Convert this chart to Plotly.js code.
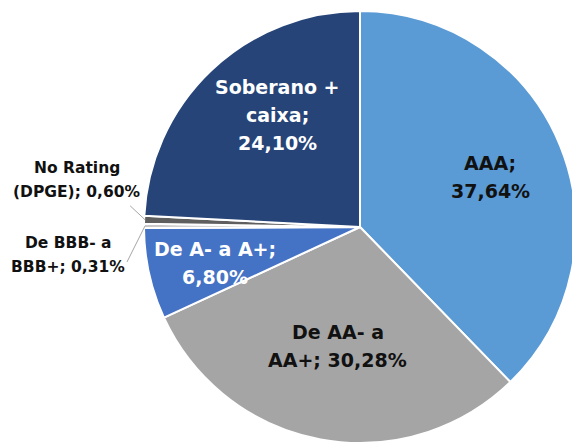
<!DOCTYPE html>
<html>
<head>
<meta charset="utf-8">
<script src="https://cdn.plot.ly/plotly-3.0.1.min.js"></script>
<style>
  html, body { margin: 0; padding: 0; background: #fff; overflow: hidden; }
  #chart { width: 600px; height: 460px; }
</style>
</head>
<body>
<div id="chart"></div>
<script>
// slices, clockwise from 12 o'clock
const labels = ['AAA', 'De AA- a AA+', 'De A- a A+', 'De BBB- a BBB+', 'No Rating (DPGE)', 'Soberano + caixa']
const values = [37.64, 30.28, 6.80, 0.31, 0.60, 24.10]
const labelLines = [
    ['AAA;', '37,64%'],
    ['De AA- a', 'AA+; 30,28%'],
    ['De A- a A+;', '6,80%'],
    ['De BBB- a', 'BBB+; 0,31%'],
    ['No Rating', '(DPGE); 0,60%'],
    ['Soberano +', 'caixa;', '24,10%'],
]
const sliceColors = ['#5B9BD5', '#A5A5A5', '#4472C4', '#C8C8C8', '#5F5F5F', '#264478']
const textColors = ['#111', '#111', '#fff', '#111', '#111', '#fff']

const W = 600, H = 460
const cx = 360, cy = 227, R = 216

// inside labels: [fraction of radius, angle nudge in degrees]; outside: null
const insidePos = [[0.645, 1], [0.56, 0], [0.69, -1.5], null, null, [0.645, 7]]
// outside labels: text centre offset and leader line end offset, from slice edge (px)
const outsidePos = {
    3: {text: [-77, 29], line: [-18, 36]},
    4: {text: [-68, -40], line: [-15, -14]},
}

const toX = px => px / W
const toY = py => 1 - py / H

const total = values.reduce((a, b) => a + b, 0)
const annotations = []
const shapes = []
let cum = 0
values.forEach((v, i) => {
    let mid = (cum + v / 2) / total * 360
    cum += v
    const lines = labelLines[i]
    let tx, ty, size, gap
    if (insidePos[i]) {
        const [f, nudge] = insidePos[i]
        const a = (mid + nudge) * Math.PI / 180
        tx = cx + Math.sin(a) * R * f
        ty = cy - Math.cos(a) * R * f
        size = 19
        gap = 28
    } else {
        const a = mid * Math.PI / 180
        const ex = cx + Math.sin(a) * (R - 1)
        const ey = cy - Math.cos(a) * (R - 1)
        const o = outsidePos[i]
        tx = ex + o.text[0]
        ty = ey + o.text[1]
        size = 15.5
        gap = 23.5
        shapes.push({
            type: 'line', xref: 'paper', yref: 'paper',
            x0: toX(ex), y0: toY(ey), x1: toX(ex + o.line[0]), y1: toY(ey + o.line[1]),
            line: {color: '#A6A6A6', width: 1},
        })
    }
    lines.forEach((t, k) => {
        annotations.push({
            xref: 'paper', yref: 'paper',
            x: toX(tx), y: toY(ty),
            yshift: -(k - (lines.length - 1) / 2) * gap,
            text: t, showarrow: false,
            xanchor: 'center', yanchor: 'middle',
            font: {family: 'DejaVu Sans', size: size, color: textColors[i], weight: 'bold'},
        })
    })
})

const data = [{
    type: 'pie',
    labels: labels,
    values: values,
    sort: false,
    direction: 'clockwise',
    rotation: 0,
    textinfo: 'none',
    hoverinfo: 'label+value',
    marker: {colors: sliceColors, line: {color: '#ffffff', width: 2}},
    domain: {x: [(cx - R) / W, (cx + R) / W], y: [1 - (cy + R) / H, 1 - (cy - R) / H]},
}]

const layout = {
    width: W,
    height: H,
    showlegend: false,
    margin: {l: 0, r: 0, t: 0, b: 0},
    paper_bgcolor: '#ffffff',
    annotations: annotations,
    shapes: shapes,
}

Plotly.newPlot('chart', data, layout, {displayModeBar: false, staticPlot: true})
</script>
</body>
</html>
